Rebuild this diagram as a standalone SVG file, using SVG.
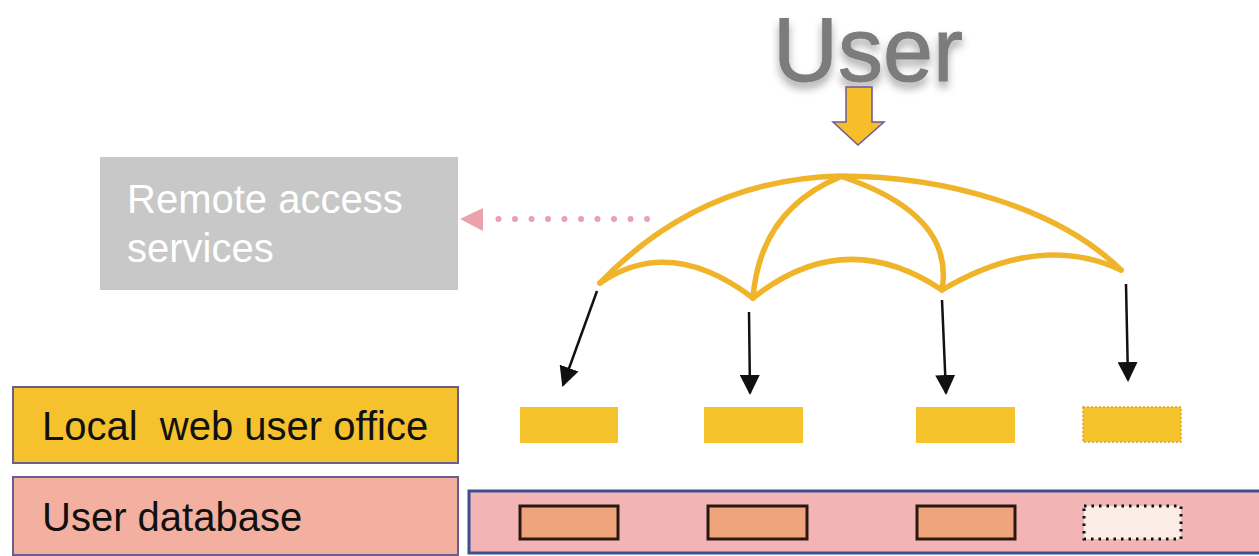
<svg xmlns="http://www.w3.org/2000/svg" width="1259" height="556" viewBox="0 0 1259 556">
<defs>
<style>
.lbl{font-family:"Liberation Sans",Arial,sans-serif;font-size:40px;fill:#111}
.rib{fill:none;stroke:#F0B42A;stroke-width:5.5;stroke-linecap:round;stroke-linejoin:round}
.arr{fill:none;stroke:#111;stroke-width:2.5}
.ybox{fill:#F5C42C}
.obox{fill:#EFA47C;stroke:#2A1810;stroke-width:3}
</style>
<marker id="ah" viewBox="0 0 10 10" refX="9" refY="5" markerWidth="8" markerHeight="8" markerUnits="strokeWidth" orient="auto">
<path d="M0,0 L10,5 L0,10 Z" fill="#111"/>
</marker>
<filter id="sh" x="-20%" y="-30%" width="140%" height="180%">
<feDropShadow dx="0" dy="6" stdDeviation="4" flood-color="#000" flood-opacity="0.35"/>
</filter>
</defs>
<rect width="1259" height="556" fill="#fff"/>

<g id="user">
<text x="868" y="81" text-anchor="middle" font-family="'Liberation Sans',Arial,sans-serif" font-size="90" fill="#7b7b7b" stroke="#7b7b7b" stroke-width="1" filter="url(#sh)">User</text>
<polygon points="846,87 872,87 872,122 884,122 858,145 833,122 846,122" fill="#F5BE2A" stroke="#6B5A9A" stroke-width="1.5"/>
</g>

<g id="remote">
<rect x="100" y="157" width="358" height="133" fill="#C8C8C8"/>
<text class="lbl" x="127" y="213" style="fill:#fff">Remote access</text>
<text class="lbl" x="127" y="262" style="fill:#fff">services</text>
</g>

<g id="umbrella">
<path class="rib" d="M600,283 C675,205 760,178 840,176 C950,176 1060,210 1121,270"/>
<path class="rib" d="M600,283 Q670,235 753,298"/>
<path class="rib" d="M753,298 Q845,225 942,290"/>
<path class="rib" d="M942,290 Q1040,232 1121,270"/>
<path class="rib" d="M840,177 Q760,210 753,298"/>
<path class="rib" d="M843,177 Q955,215 942,290"/>
</g>

<g id="local-office">
<rect x="13" y="387" width="445" height="76" fill="#F5C22E" stroke="#6A5E8E" stroke-width="2"/>
<text class="lbl" x="42" y="440" xml:space="preserve">Local  web user office</text>
</g>

<g id="user-database">
<rect x="13" y="477" width="445" height="78" fill="#F3B0A0" stroke="#6A5E8E" stroke-width="2"/>
<text class="lbl" x="42" y="531">User database</text>
</g>

<g id="offices">
<rect class="ybox" x="520" y="407" width="98" height="36"/>
<rect class="ybox" x="704" y="407" width="99" height="36"/>
<rect class="ybox" x="916" y="407" width="99" height="36"/>
<rect class="ybox" x="1083" y="407" width="98" height="35" stroke="#D9A21E" stroke-width="1.5" stroke-dasharray="2 2"/>
</g>

<g id="database-band">
<rect x="469" y="491" width="800" height="62" fill="#F2B4B4" stroke="#3D4F8F" stroke-width="3"/>
<rect class="obox" x="520" y="506" width="98" height="33"/>
<rect class="obox" x="708" y="506" width="99" height="33"/>
<rect class="obox" x="917" y="506" width="98" height="33"/>
<rect x="1084" y="506" width="97" height="33" fill="#FBEDE6" stroke="#111" stroke-width="3" stroke-dasharray="2.5 5"/>
</g>

<g id="connectors">
<line x1="647" y1="219" x2="497" y2="219" stroke="#E9A3AE" stroke-width="6" stroke-linecap="round" stroke-dasharray="0 16.5"/>
<polygon points="460,219 483,208 483,231" fill="#EBA2AC"/>
<line class="arr" x1="597" y1="291" x2="563" y2="385" marker-end="url(#ah)"/>
<line class="arr" x1="749" y1="312" x2="750" y2="393" marker-end="url(#ah)"/>
<line class="arr" x1="942" y1="300" x2="946" y2="393" marker-end="url(#ah)"/>
<line class="arr" x1="1126" y1="284" x2="1128" y2="380" marker-end="url(#ah)"/>
</g>
</svg>
